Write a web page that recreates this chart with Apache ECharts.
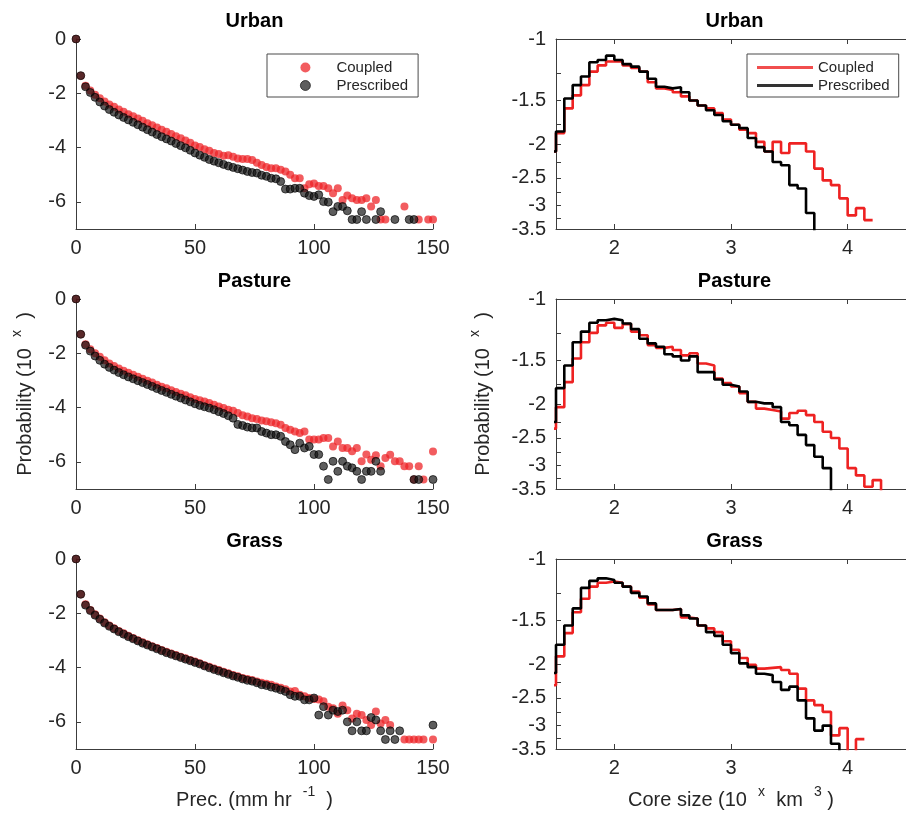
<!DOCTYPE html>
<html>
<head>
<meta charset="utf-8">
<script src="https://cdn.jsdelivr.net/npm/echarts@6/dist/echarts.min.js"></script>
<style>
  html, body { margin: 0; padding: 0; background: #fff; }
  #chart { width: 906px; height: 820px; }
</style>
</head>
<body>
<div id="chart"></div>
<script>
// ---- Rain-rate distributions: log10 probability per 2 mm/hr bin ----
const panelNames = ['Urban', 'Pasture', 'Grass'];
const precBins = [0, 2, 4, 6, 8, 10, 12, 14, 16, 18, 20, 22, 24, 26, 28, 30, 32, 34, 36, 38,
  40, 42, 44, 46, 48, 50, 52, 54, 56, 58, 60, 62, 64, 66, 68, 70, 72, 74, 76, 78,
  80, 82, 84, 86, 88, 90, 92, 94, 96, 98, 100, 102, 104, 106, 108, 110, 112, 114, 116, 118,
  120, 122, 124, 126, 128, 130, 132, 134, 136, 138, 140, 142, 144, 146, 148, 150];

const urbanCoupledPrec = [
  0, -1.35, -1.72, -1.90, -2.05, -2.18, -2.30, -2.41, -2.50, -2.60,
  -2.68, -2.77, -2.85, -2.93, -3.01, -3.10, -3.18, -3.26, -3.34, -3.42,
  -3.50, -3.58, -3.66, -3.74, -3.82, -3.92, -3.98, -4.06, -4.12, -4.20,
  -4.24, -4.30, -4.28, -4.34, -4.40, -4.42, -4.42, -4.46, -4.56, -4.64,
  -4.72, -4.76, -4.76, -4.82, -4.88, -5.00, -5.13, -5.13, -5.50, -5.35,
  -5.32, -5.42, -5.42, -5.50, -5.68, -5.50, -5.93, -5.77, -5.87, -5.93,
  -5.93, -5.87, -6.17, -5.93, -6.65, -6.65, null, null, null, -6.17,
  null, null, -6.65, null, -6.65, -6.65];
const urbanPrescribedPrec = [
  0, -1.35, -1.76, -1.97, -2.15, -2.32, -2.47, -2.60, -2.70, -2.80,
  -2.89, -2.98, -3.07, -3.16, -3.25, -3.34, -3.43, -3.52, -3.60, -3.68,
  -3.76, -3.85, -3.93, -4.01, -4.10, -4.20, -4.28, -4.36, -4.44, -4.50,
  -4.56, -4.62, -4.68, -4.73, -4.78, -4.83, -4.88, -4.92, -4.94, -5.02,
  -5.06, -5.13, -5.15, -5.25, -5.53, -5.53, -5.50, -5.50, -5.68, -5.77,
  -5.80, -5.74, -5.99, -6.01, -6.36, -6.17, -6.17, -6.33, -6.65, -6.65,
  -6.36, -6.65, null, -6.65, -6.36, null, null, -6.65, null, null,
  -6.65, -6.65, null, null, null, null];

const pastureCoupledPrec = [
  0, -1.30, -1.67, -1.85, -2.00, -2.13, -2.26, -2.38, -2.47, -2.56,
  -2.64, -2.72, -2.79, -2.86, -2.94, -3.01, -3.08, -3.16, -3.23, -3.29,
  -3.36, -3.43, -3.49, -3.55, -3.62, -3.68, -3.73, -3.78, -3.83, -3.90,
  -3.96, -4.02, -4.08, -4.12, -4.20, -4.28, -4.33, -4.39, -4.42, -4.48,
  -4.50, -4.54, -4.58, -4.63, -4.75, -4.82, -4.88, -4.94, -4.88, -5.18,
  -5.18, -5.18, -5.12, -5.12, -5.43, -5.25, -5.49, -5.49, -5.61, -5.49,
  -5.98, -5.73, -5.92, -5.76, -6.16, -5.86, -5.74, -5.98, -5.98, -6.16,
  -6.16, -6.65, -6.16, -6.65, null, -5.62];
const pasturePrescribedPrec = [
  0, -1.30, -1.70, -1.92, -2.10, -2.26, -2.40, -2.52, -2.62, -2.71,
  -2.79, -2.87, -2.94, -3.01, -3.08, -3.15, -3.22, -3.30, -3.37, -3.44,
  -3.51, -3.58, -3.65, -3.72, -3.79, -3.86, -3.92, -3.97, -4.02, -4.08,
  -4.15, -4.22, -4.30, -4.39, -4.62, -4.66, -4.72, -4.75, -4.75, -4.88,
  -4.94, -5.00, -5.00, -5.06, -5.25, -5.37, -5.55, -5.31, -5.49, -5.43,
  -5.73, -5.73, -6.16, -6.65, -5.98, -6.35, -5.98, -6.16, -6.22, -6.35,
  -6.65, -6.35, -6.35, -5.98, -6.35, null, null, null, null, null,
  null, -6.65, -6.65, null, null, -6.65];

const grassCoupledPrec = [
  0, -1.30, -1.67, -1.88, -2.04, -2.19, -2.33, -2.45, -2.55, -2.65,
  -2.74, -2.83, -2.91, -2.99, -3.07, -3.14, -3.21, -3.28, -3.35, -3.42,
  -3.48, -3.54, -3.60, -3.66, -3.72, -3.78, -3.84, -3.91, -3.97, -4.03,
  -4.09, -4.15, -4.21, -4.27, -4.32, -4.38, -4.42, -4.46, -4.51, -4.56,
  -4.60, -4.63, -4.70, -4.74, -4.80, -4.88, -4.86, -5.00, -5.06, -5.12,
  -5.16, -5.18, -5.24, -5.44, -5.50, -5.70, -5.40, -5.57, -5.88, -5.70,
  -5.75, -5.93, -6.12, -5.62, -6.06, -5.93, -6.12, null, null, -6.65,
  -6.65, -6.65, -6.65, -6.65, null, -6.65];
const grassPrescribedPrec = [
  0, -1.30, -1.70, -1.90, -2.07, -2.22, -2.36, -2.48, -2.58, -2.68,
  -2.77, -2.86, -2.94, -3.02, -3.10, -3.17, -3.24, -3.31, -3.38, -3.45,
  -3.51, -3.57, -3.63, -3.69, -3.75, -3.81, -3.87, -3.94, -4.01, -4.07,
  -4.13, -4.19, -4.25, -4.31, -4.36, -4.42, -4.47, -4.50, -4.56, -4.63,
  -4.66, -4.72, -4.76, -4.82, -4.88, -5.00, -5.06, -5.06, -5.19, -5.19,
  -5.12, -5.75, -5.44, -5.75, -5.57, -5.62, -5.57, -6.00, -6.33, -6.00,
  -6.33, -6.33, -5.84, -5.93, -6.33, -6.65, -6.33, -6.65, -6.33, null,
  null, null, null, null, null, -6.12];

// ---- Core-size distributions: log10 probability per bin (left bin edges, log10 km^3) ----
const coreBinEdges = [1.429, 1.5, 1.571, 1.643, 1.714, 1.786, 1.857, 1.929, 2.0, 2.071,
  2.143, 2.214, 2.286, 2.357, 2.429, 2.5, 2.571, 2.643, 2.714, 2.786,
  2.857, 2.929, 3.0, 3.071, 3.143, 3.214, 3.286, 3.357, 3.429, 3.5,
  3.571, 3.643, 3.714, 3.786, 3.857, 3.929, 4.0, 4.071, 4.143, 4.214,
  4.286, 4.357];
// an empty bin (log10 of zero) falls below the frame
const EMPTY = -9;

const urbanCoupledCore = [
  -2.10, -1.86, -1.58, -1.45, -1.355, -1.24, -1.19, -1.16, -1.16, -1.19,
  -1.21, -1.24, -1.33, -1.385, -1.40, -1.42, -1.46, -1.50, -1.55, -1.58,
  -1.63, -1.70, -1.76, -1.82, -1.86, -1.97, -2.10, -1.97, -2.12, -1.99,
  -1.99, -2.10, -2.35, -2.54, -2.62, -2.86, -3.20, -3.05, -3.30, -3.30,
  null, null];
const urbanPrescribedCore = [
  -2.10, -1.84, -1.48, -1.355, -1.28, -1.166, -1.148, -1.116, -1.148, -1.18,
  -1.20, -1.24, -1.30, -1.37, -1.385, -1.375, -1.42, -1.50, -1.55, -1.60,
  -1.65, -1.72, -1.76, -1.80, -1.92, -2.04, -2.10, -2.25, -2.30, -2.62,
  -2.68, -3.15, EMPTY, null, null, null, null, null, null, null,
  null, null];

const pastureCoupledCore = [
  -2.35, -2.04, -1.73, -1.48, -1.33, -1.25, -1.19, -1.17, -1.21, -1.18,
  -1.24, -1.27, -1.355, -1.38, -1.37, -1.40, -1.45, -1.43, -1.53, -1.55,
  -1.69, -1.74, -1.78, -1.86, -1.97, -2.06, -2.08, -2.10, -2.20, -2.12,
  -2.09, -2.15, -2.25, -2.40, -2.50, -2.68, -3.05, -3.20, -3.45, -3.30,
  EMPTY, null];
const pasturePrescribedCore = [
  -2.25, -1.80, -1.55, -1.33, -1.24, -1.17, -1.15, -1.14, -1.15, -1.175,
  -1.22, -1.30, -1.34, -1.37, -1.44, -1.46, -1.50, -1.46, -1.62, -1.62,
  -1.70, -1.76, -1.78, -1.84, -1.97, -1.99, -1.99, -2.04, -2.25, -2.30,
  -2.45, -2.62, -2.83, -3.05, EMPTY, null, null, null, null, null,
  null, null];

const grassCoupledCore = [
  -2.30, -1.90, -1.63, -1.42, -1.30, -1.20, -1.17, -1.16, -1.17, -1.20,
  -1.24, -1.29, -1.35, -1.40, -1.40, -1.39, -1.47, -1.48, -1.55, -1.58,
  -1.62, -1.72, -1.82, -1.92, -2.01, -2.06, -2.05, -2.04, -2.08, -2.13,
  -2.35, -2.54, -2.62, -2.74, -3.20, -3.05, EMPTY, -3.28, -3.28, null,
  null, null];
const grassPrescribedCore = [
  -2.12, -1.76, -1.55, -1.385, -1.21, -1.155, -1.136, -1.148, -1.17, -1.20,
  -1.25, -1.28, -1.34, -1.40, -1.40, -1.39, -1.45, -1.48, -1.55, -1.62,
  -1.66, -1.76, -1.86, -1.99, -2.04, -2.13, -2.15, -2.25, -2.37, -2.32,
  -2.54, -2.86, -3.10, -3.00, -3.38, EMPTY, null, null, null, null,
  null, null];

// ---- Tick labels ----
const precTicks = [0, 50, 100, 150];
const precProbTicks = [0, -2, -4, -6];
const coreTicks = [2, 3, 4];
const coreProbLabels = [-1, -1.5, -2, -2.5, -3, -3.5];
const coreProbTickMarks = [-1, -1.25, -1.5, -1.75, -2, -2.25, -2.5, -2.75, -3, -3.25, -3.5];

const precSeries = [
  [urbanCoupledPrec, urbanPrescribedPrec],
  [pastureCoupledPrec, pasturePrescribedPrec],
  [grassCoupledPrec, grassPrescribedPrec]
];
const coreSeries = [
  [urbanCoupledCore, urbanPrescribedCore],
  [pastureCoupledCore, pasturePrescribedCore],
  [grassCoupledCore, grassPrescribedCore]
];

// ---- Styling & layout ----
const FONT = '"Liberation Sans", Arial, Helvetica, sans-serif';
const TEXT = '#262626';
const AXIS = '#3c3c3c';
const RED = '#ee2222';
const DOT_RED = 'rgba(238, 34, 38, 0.92)';
const DOT_BLACK = 'rgba(18, 18, 18, 0.85)';
const panelTops = [39, 299, 559];
const panelH = 190;
const leftX = 76, leftW = 357;
const rightX = 556, rightW = 357;
const TICK_FS = 20;

// the core-size panels use a log scale on the magnitude of the (negative) exponent
const toCoreY = v => Math.log10(-v);
const coreYMax = toCoreY(-3.5);

const supRich = {
  n: { fontSize: 20, fontFamily: FONT, color: TEXT, lineHeight: 30 },
  s: { fontSize: 14, fontFamily: FONT, color: TEXT, verticalAlign: 'top', lineHeight: 30 }
};
const axisLine = { onZero: false, lineStyle: { color: AXIS, width: 1 } };

const grid = [], xAxis = [], yAxis = [], series = [];

panelNames.forEach((name, p) => {
  const top = panelTops[p];
  const isMid = p === 1, isLast = p === 2;

  // --- precipitation panel (left and bottom axes only) ---
  const gL = grid.length;
  grid.push({ left: leftX, top: top, width: leftW, height: panelH });
  const xl = xAxis.length;
  xAxis.push({
    gridIndex: gL, type: 'value', min: 0, max: 150, position: 'bottom',
    axisLine: axisLine,
    axisTick: { inside: true, length: 5, customValues: precTicks, lineStyle: { color: AXIS } },
    axisLabel: { customValues: precTicks, color: TEXT, fontSize: TICK_FS, fontFamily: FONT, margin: 9 },
    splitLine: { show: false },
    name: isLast ? '{n|Prec. (mm hr  }{s|-1}{n|  )}' : '',
    nameLocation: 'middle', nameGap: 36,
    nameTextStyle: { rich: supRich }
  });
  const yl = yAxis.length;
  yAxis.push({
    gridIndex: gL, type: 'value', min: -7, max: 0, position: 'left',
    axisLine: Object.assign({ show: true }, axisLine),
    axisTick: { show: true, inside: true, length: 5, customValues: precProbTicks, lineStyle: { color: AXIS } },
    axisLabel: { customValues: precProbTicks, color: TEXT, fontSize: TICK_FS, fontFamily: FONT, margin: 10 },
    splitLine: { show: false },
    name: isMid ? '{n|Probability (10  }{s|x}{n|  )}' : '',
    nameLocation: 'middle', nameGap: 36, nameRotate: 90,
    nameTextStyle: { rich: supRich }
  });
  const [cp, pp] = precSeries[p];
  const pts = arr => precBins.map((x, i) => [x, arr[i]]).filter(d => d[1] !== null);
  series.push({
    type: 'scatter', name: 'Coupled', xAxisIndex: xl, yAxisIndex: yl, clip: false,
    symbolSize: 8, itemStyle: { color: DOT_RED }, data: pts(cp)
  });
  series.push({
    type: 'scatter', name: 'Prescribed', xAxisIndex: xl, yAxisIndex: yl, clip: false,
    symbolSize: 8, itemStyle: { color: DOT_BLACK, borderColor: '#000', borderWidth: 0.8 }, data: pts(pp)
  });

  // --- core-size panel (boxed) ---
  const gR = grid.length;
  grid.push({ left: rightX, top: top, width: rightW, height: panelH });
  const xb = xAxis.length;
  xAxis.push({
    gridIndex: gR, type: 'value', min: 1.5, max: 4.5, position: 'bottom',
    axisLine: axisLine,
    axisTick: { inside: true, length: 5, customValues: coreTicks, lineStyle: { color: AXIS } },
    axisLabel: { customValues: coreTicks, color: TEXT, fontSize: TICK_FS, fontFamily: FONT, margin: 9 },
    splitLine: { show: false },
    name: isLast ? '{n|Core size (10  }{s|x}{n|  km  }{s|3}{n| )}' : '',
    nameLocation: 'middle', nameGap: 36,
    nameTextStyle: { rich: supRich }
  });
  xAxis.push({
    gridIndex: gR, type: 'value', min: 1.5, max: 4.5, position: 'top',
    axisLine: axisLine,
    axisTick: { inside: true, length: 5, customValues: coreTicks, lineStyle: { color: AXIS } },
    axisLabel: { show: false }, splitLine: { show: false }
  });
  const yb = yAxis.length;
  yAxis.push({
    gridIndex: gR, type: 'value', min: 0, max: coreYMax, inverse: true, position: 'left',
    axisLine: Object.assign({ show: true }, axisLine),
    axisTick: { show: true, inside: true, length: 5, customValues: coreProbTickMarks.map(toCoreY), lineStyle: { color: AXIS } },
    axisLabel: {
      customValues: coreProbLabels.map(toCoreY), color: TEXT, fontSize: TICK_FS, fontFamily: FONT, margin: 10,
      formatter: val => String(Math.round(-Math.pow(10, val) * 100) / 100)
    },
    splitLine: { show: false },
    name: isMid ? '{n|Probability (10  }{s|x}{n|  )}' : '',
    nameLocation: 'middle', nameGap: 58, nameRotate: 90,
    nameTextStyle: { rich: supRich }
  });
  const [cc, pc] = coreSeries[p];
  const steps = arr => coreBinEdges.map((x, i) => [x, arr[i]]).filter(d => d[1] !== null).map(d => [d[0], toCoreY(d[1])]);
  series.push({
    type: 'line', name: 'Coupled', xAxisIndex: xb, yAxisIndex: yb, step: 'end',
    showSymbol: false, symbol: 'none', clip: true,
    lineStyle: { color: RED, width: 2.6 }, itemStyle: { color: RED }, data: steps(cc)
  });
  series.push({
    type: 'line', name: 'Prescribed', xAxisIndex: xb, yAxisIndex: yb, step: 'end',
    showSymbol: false, symbol: 'none', clip: true,
    lineStyle: { color: '#000', width: 2.6 }, itemStyle: { color: '#000' }, data: steps(pc)
  });
});

// panel titles
const graphic = [];
panelNames.forEach((name, p) => {
  [leftX + leftW / 2, rightX + rightW / 2].forEach(cx => {
    graphic.push({
      type: 'text', x: cx, y: panelTops[p] - 28,
      style: { text: name, align: 'center', verticalAlign: 'top', fill: '#000',
        font: 'bold 20px ' + FONT }
    });
  });
});

const legendBase = {
  orient: 'vertical', top: 54, itemGap: 3, selectedMode: false,
  borderColor: '#4a4a4a', borderWidth: 1, borderRadius: 0,
  textStyle: { fontSize: 15, color: TEXT, fontFamily: FONT }
};

const option = {
  animation: false,
  backgroundColor: '#fff',
  grid, xAxis, yAxis, series, graphic,
  legend: [
    Object.assign({}, legendBase, {
      left: 267, padding: [6, 10, 4, 33], itemWidth: 10, itemHeight: 10,
      textStyle: Object.assign({}, legendBase.textStyle, { padding: [0, 0, 0, 21] }),
      data: [
        { name: 'Coupled', icon: 'circle', itemStyle: { color: DOT_RED, borderWidth: 0 } },
        { name: 'Prescribed', icon: 'circle', itemStyle: { color: DOT_BLACK, borderColor: '#000', borderWidth: 0.8 } }
      ]
    }),
    Object.assign({}, legendBase, {
      left: 747, padding: [6, 9, 4, 10], itemWidth: 56, itemHeight: 3,
      data: [
        { name: 'Coupled', icon: 'rect', itemStyle: { color: RED, borderWidth: 0 } },
        { name: 'Prescribed', icon: 'rect', itemStyle: { color: '#000', borderWidth: 0 } }
      ]
    })
  ]
};

const chart = echarts.init(document.getElementById('chart'), null, { renderer: 'canvas' });
chart.setOption(option);
</script>
</body>
</html>
